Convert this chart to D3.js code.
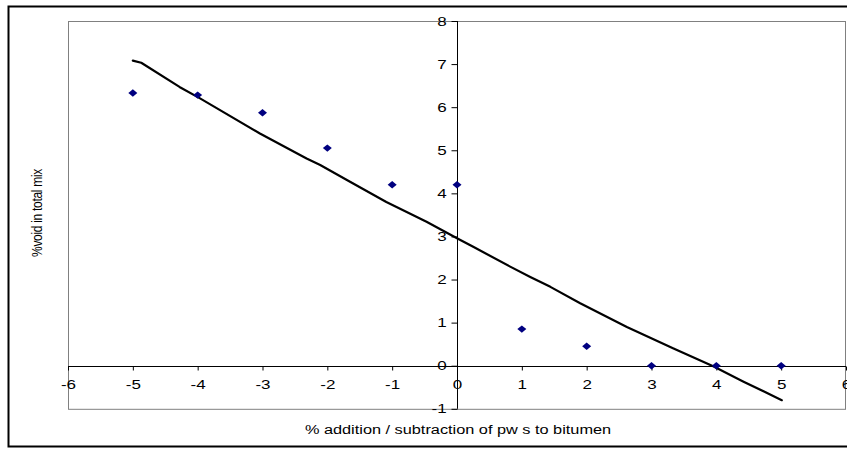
<!DOCTYPE html>
<html>
<head>
<meta charset="utf-8">
<script src="https://cdn.jsdelivr.net/npm/d3@7"></script>
<style>
  html, body { margin: 0; padding: 0; background: #fff; }
  svg { display: block; font-family: "Liberation Sans", Arial, sans-serif; }
</style>
</head>
<body>
<svg id="chart" width="847" height="449"></svg>
<script>
// ---- data ----
const pointX = [-5, -4, -3, -2, -1, 0, 1, 2, 3, 4, 5];
const pointY = [6.33, 6.28, 5.87, 5.05, 4.2, 4.2, 0.85, 0.45, 0, 0, 0];

// hand-drawn trend line, sampled along its path
const trendX = [-5.0, -4.87, -4.28, -3.97, -3.04, -2.32, -2.11, -1.65, -1.09, -0.47, 0, 0.25, 0.82, 1.13, 1.44, 1.90, 2.62, 3.34, 3.96, 4.42, 5.01];
const trendY = [7.08, 7.03, 6.47, 6.21, 5.39, 4.81, 4.66, 4.27, 3.80, 3.34, 2.96, 2.76, 2.30, 2.06, 1.83, 1.45, 0.90, 0.40, -0.02, -0.37, -0.80];

const xTicks = [-6, -5, -4, -3, -2, -1, 0, 1, 2, 3, 4, 5, 6];
const yTicks = [-1, 0, 1, 2, 3, 4, 5, 6, 7, 8];

const xTitle = "% addition / subtraction of pw s to bitumen";
const yTitle = "%void in total mix";

// ---- layout ----
const svg = d3.select("#chart");
const plot = { left: 68, top: 21, right: 846, bottom: 408.8 };
const stretch = 1.36; // the original picture is stretched horizontally
const fontSize = 12.5;

const x = d3.scaleLinear().domain([-6, 6]).range([plot.left, plot.right]);
const y = d3.scaleLinear().domain([-1, 8]).range([plot.bottom, plot.top]);

// outer chart frame
svg.append("rect")
  .attr("x", 8.5).attr("y", 6.5)
  .attr("width", 845).attr("height", 440)
  .attr("fill", "none").attr("stroke", "#000").attr("stroke-width", 2);

// plot area border
svg.append("rect")
  .attr("x", plot.left + 0.5).attr("y", plot.top + 0.5)
  .attr("width", plot.right - plot.left - 1).attr("height", plot.bottom - plot.top)
  .attr("fill", "none").attr("stroke", "#808080").attr("stroke-width", 1);

// x axis at y = 0
const xAxis = d3.axisBottom(x).tickValues(xTicks).tickSize(4).tickPadding(10)
  .tickFormat(d => String(d));
const gx = svg.append("g")
  .attr("transform", `translate(0,${Math.round(y(0)) + 0.5})`)
  .call(xAxis);
gx.select(".domain").attr("stroke", "#000").attr("d", `M${plot.left},0H${plot.right}`);
gx.selectAll(".tick line").attr("stroke", "#000");
gx.selectAll(".tick text")
  .attr("font-size", fontSize).attr("fill", "#000")
  .attr("font-family", "'Liberation Sans', Arial, sans-serif")
  .attr("transform", `scale(${stretch},1)`);

// y axis at x = 0
const yAxis = d3.axisLeft(y).tickValues(yTicks).tickSize(6).tickPadding(2)
  .tickFormat(d => String(d));
const gy = svg.append("g")
  .attr("transform", `translate(${Math.round(x(0)) + 0.5},0)`)
  .call(yAxis);
gy.select(".domain").attr("stroke", "#000").attr("d", `M0,${plot.top}V${plot.bottom}`);
gy.selectAll(".tick line").attr("stroke", "#000");
gy.selectAll(".tick text")
  .attr("font-size", fontSize).attr("fill", "#000")
  .attr("font-family", "'Liberation Sans', Arial, sans-serif")
  .attr("transform", `scale(${stretch},1)`);

// trend line
const line = d3.line().x(d => x(d[0])).y(d => y(d[1])).curve(d3.curveLinear);
svg.append("path")
  .datum(d3.zip(trendX, trendY))
  .attr("d", line)
  .attr("fill", "none").attr("stroke", "#000").attr("stroke-width", 2.2)
  .attr("stroke-linejoin", "round").attr("stroke-linecap", "round");

// diamond markers
const hw = 4.5, hh = 3.7;
svg.append("g").selectAll("path")
  .data(d3.zip(pointX, pointY))
  .join("path")
  .attr("d", d => {
    const cx = x(d[0]), cy = y(d[1]);
    return `M${cx},${cy - hh}L${cx + hw},${cy}L${cx},${cy + hh}L${cx - hw},${cy}Z`;
  })
  .attr("fill", "#000080");

// axis titles
svg.append("text")
  .attr("transform", `translate(458,434) scale(${stretch * 0.96},1)`)
  .attr("text-anchor", "middle")
  .attr("font-size", fontSize).attr("fill", "#000")
  .text(xTitle);

svg.append("text")
  .attr("transform", `translate(42,213) rotate(-90) scale(1,1.2)`)
  .attr("text-anchor", "middle")
  .attr("font-size", 12).attr("fill", "#000")
  .attr("letter-spacing", -0.3)
  .text(yTitle);
</script>
</body>
</html>
